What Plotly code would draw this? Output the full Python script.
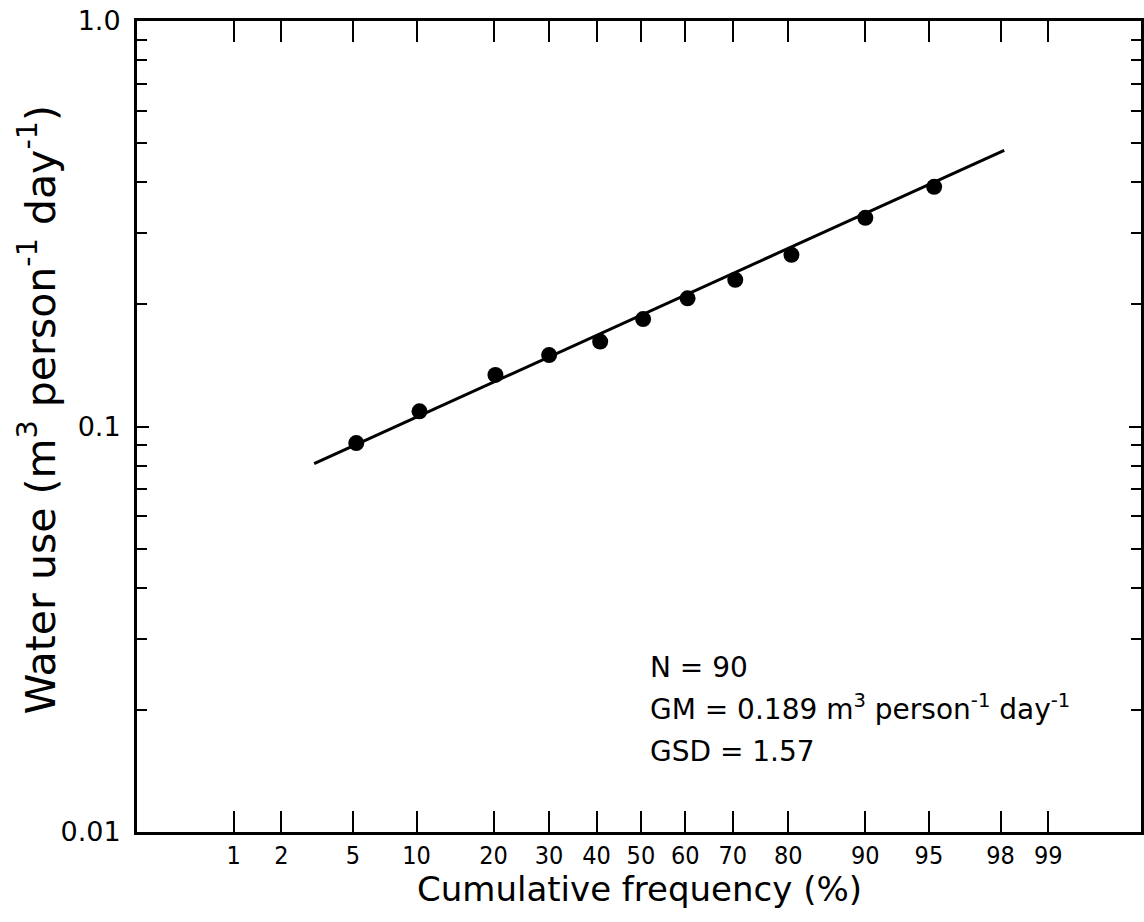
import plotly.graph_objects as go
from statistics import NormalDist

# ---- data ----
pct = [5.2, 10.3, 20.3, 30.0, 40.8, 50.5, 60.5, 70.5, 80.5, 90.0, 95.3]
water = [0.091, 0.109, 0.134, 0.150, 0.162, 0.184, 0.207, 0.230, 0.265, 0.327, 0.390]
fit_pct = [3.1, 98.1]
fit_water = [0.081, 0.48]
tick_pct = [1, 2, 5, 10, 20, 30, 40, 50, 60, 70, 80, 90, 95, 98, 99]
tick_pct_text = [str(v) for v in tick_pct]
ytick_vals = [0.01, 0.1, 1.0]
ytick_text = ["0.01", "0.1", "1.0"]
yminor_vals = [k * 10.0 ** e for e in (-2, -1) for k in range(2, 10)]

nd = NormalDist()
def z(p):
    return nd.inv_cdf(p / 100.0)

FONT = "DejaVu Sans, Liberation Sans, Arial, sans-serif"
NARROW = "Liberation Sans Narrow, DejaVu Sans Condensed, Arial Narrow, sans-serif"

fig = go.Figure()
fig.add_trace(go.Scatter(x=[z(p) for p in fit_pct], y=fit_water, mode="lines",
                         line=dict(color="black", width=3), hoverinfo="skip"))
fig.add_trace(go.Scatter(x=[z(p) for p in pct], y=water, mode="markers",
                         marker=dict(color="black", size=16)))

W, H = 1144, 922
L, R, T, B = 137, 0, 21, 90
pw, ph = W - L - R, H - T - B

def px(xp):
    return (xp - L) / pw
def py(yp):
    return (H - B - yp) / ph

fig.update_layout(
    width=W, height=H, showlegend=False,
    margin=dict(l=L, r=R, t=T, b=B, pad=0),
    paper_bgcolor="white", plot_bgcolor="white",
    font=dict(family=FONT, color="black"),
    xaxis=dict(
        range=[-2.878, 2.856], showgrid=False, zeroline=False,
        showline=True, linecolor="black", linewidth=3, mirror="ticks",
        tickmode="array", tickvals=[z(p) for p in tick_pct], ticktext=tick_pct_text,
        ticks="inside", ticklen=21, tickwidth=1.6, tickcolor="black",
        tickfont=dict(family=NARROW, size=25, color="black"),
        ticklabelstandoff=-1, ticklabeloverflow="allow",
    ),
    yaxis=dict(
        type="log", range=[-2, 0], showgrid=False, zeroline=False,
        showline=True, linecolor="black", linewidth=3, mirror="ticks",
        tickmode="array", tickvals=ytick_vals, ticktext=ytick_text,
        ticks="inside", ticklen=12, tickwidth=1.6, tickcolor="black",
        tickfont=dict(family=FONT, size=27, color="black"),
        ticklabelstandoff=8, ticklabeloverflow="allow",
        minor=dict(tickmode="array", tickvals=yminor_vals, ticks="inside",
                   ticklen=10, tickwidth=1.6, tickcolor="black", showgrid=False),
    ),
)

ann = []
ann.append(dict(text="Cumulative frequency (%)", x=px(641), y=py(889),
                xref="paper", yref="paper", xanchor="center", yanchor="middle",
                showarrow=False, font=dict(size=34, family=FONT)))
ann.append(dict(text="Water use (m<sup>3</sup> person<sup>-1</sup> day<sup>-1</sup>)",
                x=px(37), y=py(410), xref="paper", yref="paper",
                xanchor="center", yanchor="middle", textangle=-90,
                showarrow=False, font=dict(size=41, family=FONT)))
stats_lines = ["N = 90",
               "GM = 0.189 m<sup>3</sup> person<sup>-1</sup> day<sup>-1</sup>",
               "GSD = 1.57"]
for i, s in enumerate(stats_lines):
    ann.append(dict(text=s, x=px(650), y=py(686 + 42 * i), xref="paper", yref="paper",
                    xanchor="left", yanchor="bottom", showarrow=False,
                    font=dict(size=28, family=FONT)))
fig.update_layout(annotations=ann)

fig.write_html("out.html", config={"displayModeBar": False},
               post_script="document.body.style.margin='0px';")
